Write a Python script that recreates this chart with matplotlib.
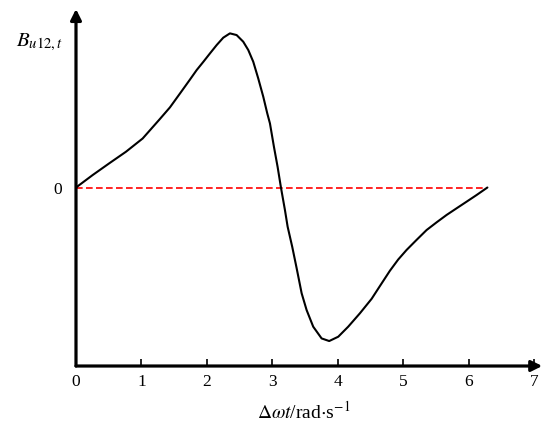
import numpy as np
import matplotlib
matplotlib.use("Agg")
import matplotlib.pyplot as plt

plt.rcParams["font.family"] = ["Liberation Serif", "DejaVu Serif"]
plt.rcParams["mathtext.fontset"] = "stix"

# phase difference (rad) and normalised B_u12,t
phase = [0.0, 0.255, 0.508, 0.763, 1.018, 1.272, 1.435, 1.588, 1.740, 1.843, 1.944,
         2.046, 2.148, 2.249, 2.351, 2.453, 2.554, 2.631, 2.707, 2.783, 2.860,
         2.921, 2.962, 3.023, 3.079, 3.130, 3.191, 3.232, 3.302, 3.369, 3.446,
         3.522, 3.623, 3.751, 3.867, 4.005, 4.157, 4.336, 4.515, 4.631, 4.794,
         4.921, 5.049, 5.201, 5.354, 5.507, 5.660, 5.812, 5.965, 6.117, 6.283]
b_u12 = [0.0, 0.081, 0.157, 0.232, 0.318, 0.440, 0.520, 0.610, 0.700, 0.762, 0.815,
         0.870, 0.924, 0.972, 1.0, 0.989, 0.946, 0.892, 0.816, 0.708, 0.589,
         0.481, 0.416, 0.264, 0.134, 0.0, -0.146, -0.254, -0.384, -0.522, -0.686,
         -0.795, -0.903, -0.979, -0.996, -0.968, -0.903, -0.816, -0.722, -0.646, -0.540,
         -0.467, -0.405, -0.340, -0.276, -0.226, -0.178, -0.135, -0.092, -0.049, 0.0]

x_ticks = [0, 1, 2, 3, 4, 5, 6, 7]

fig = plt.figure(figsize=(5.44, 4.25), dpi=100)
ax = fig.add_axes([0.1397, 0.1388, 0.857, 0.84])
xmin, xmax = 0, 7.12
ymin, ymax = -1.158, 1.158
ax.set_xlim(xmin, xmax)
ax.set_ylim(ymin, ymax)

for s in ax.spines.values():
    s.set_visible(False)

# axes drawn as arrows
arrow = dict(arrowstyle="-|>", lw=2.3, color="k", mutation_scale=16,
             shrinkA=0, shrinkB=0)
ax.annotate("", xy=(xmax, ymin), xytext=(xmin, ymin), arrowprops=arrow,
            annotation_clip=False)
ax.annotate("", xy=(xmin, ymax), xytext=(xmin, ymin), arrowprops=arrow,
            annotation_clip=False)

ax.plot([0, 2 * np.pi], [0, 0], color="red", lw=1.2, dashes=(4, 2), zorder=2)
ax.plot(phase, b_u12, color="black", lw=1.5, zorder=3,
        solid_joinstyle="round", solid_capstyle="round")

ax.set_xticks(x_ticks)
ax.set_xticklabels([str(t) for t in x_ticks])
ax.tick_params(axis="x", direction="in", length=5, width=1.2, pad=6,
               labelsize=12.5)
ax.set_yticks([0])
ax.set_yticklabels(["0"])
ax.tick_params(axis="y", length=0, pad=10, labelsize=12.5)

ax.text(-0.2, 0.944, r"$B_{u\mathrm{12},t}$", fontsize=15, ha="right",
        va="center")
fig.text(0.558, 0.031, r"$\Delta\omega t$/rad$\cdot$s$^{-1}$", fontsize=14,
         ha="center", va="center")

fig.savefig("out.png", dpi=100)
